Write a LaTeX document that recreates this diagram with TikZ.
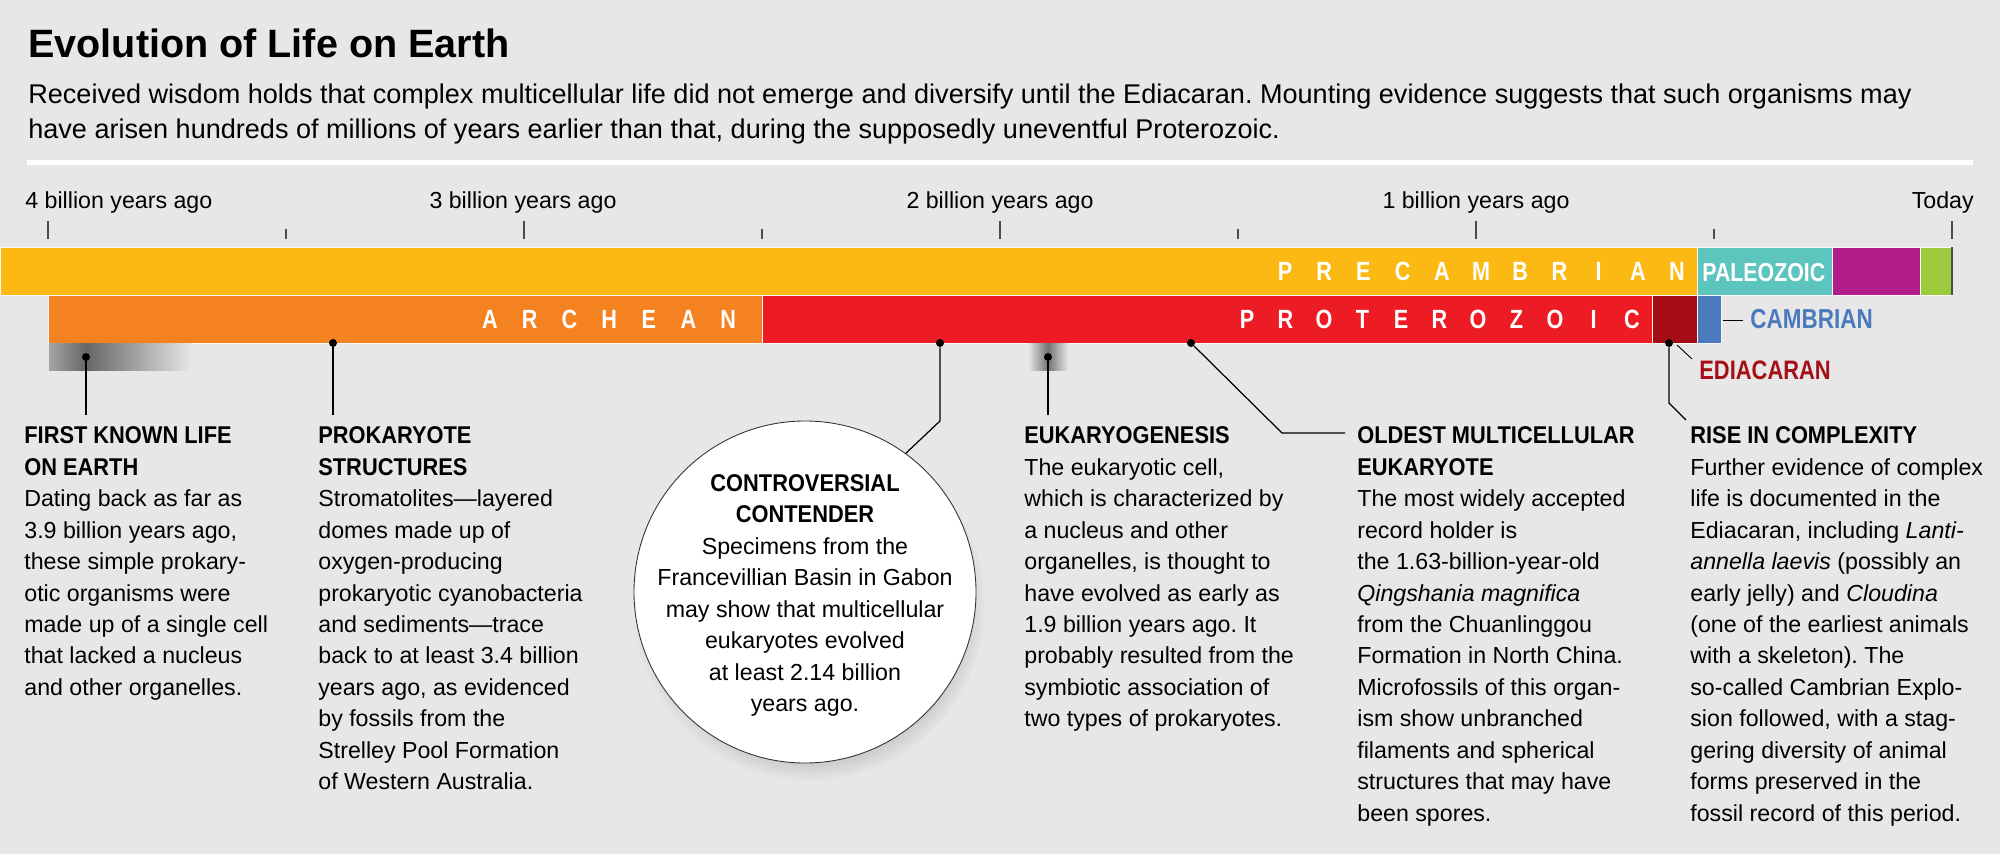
\documentclass[tikz,border=0pt]{standalone}
\usepackage{fontspec}
\setmainfont{Liberation Sans}
\newfontfamily\narrowfont{Liberation Sans}[FakeStretch=0.9]
\newfontfamily\condfont{Liberation Sans}[FakeStretch=0.82]
\usetikzlibrary{shadows}
\frenchspacing

\definecolor{bg}{RGB}{230,231,230}
\definecolor{precam}{RGB}{253,185,19}
\definecolor{paleo}{RGB}{91,197,190}
\definecolor{meso}{RGB}{177,28,139}
\definecolor{ceno}{RGB}{155,203,60}
\definecolor{archean}{RGB}{245,130,32}
\definecolor{protero}{RGB}{237,28,36}
\definecolor{ediac}{RGB}{165,14,21}
\definecolor{cambr}{RGB}{74,122,189}

\newcommand{\hd}[1]{{\narrowfont\bfseries\fontsize{13.8}{17.9}\selectfont #1}}

\tikzset{
  bar/.style={draw=white!75!bg, line width=0.5pt},
  dot/.style={circle, fill=black, inner sep=0pt, minimum size=1.6mm},
  leader/.style={line width=0.7pt},
  tickmark/.style={black!70, line width=0.7pt},
  ticklabel/.style={anchor=base, inner sep=0pt, font=\fontsize{13.2}{16}\selectfont},
  barletter/.style={anchor=base, inner sep=0pt, text=white, font=\condfont\bfseries\fontsize{15}{17}\selectfont},
  eralabel/.style={anchor=base west, inner sep=0pt, font=\condfont\bfseries\fontsize{#1}{18}\selectfont},
  coltext/.style={anchor=north west, align=left, inner sep=0pt, font=\fontsize{13.2}{17.9}\selectfont},
}

\begin{document}
\begin{tikzpicture}[x=0.2mm, y=-0.2mm]
\useasboundingbox (0,0) rectangle (2000,854);
\fill[bg] (0,0) rectangle (2000,854);

% heading
\node[anchor=base west, inner sep=0pt, font=\bfseries\fontsize{22.5}{26}\selectfont] (title) at (28,57) {Evolution of Life on Earth};
\node[anchor=base west, inner sep=0pt, font=\fontsize{15.4}{20}\selectfont] (intro1) at (28,103) {Received wisdom holds that complex multicellular life did not emerge and diversify until the Ediacaran. Mounting evidence suggests that such organisms may};
\node[anchor=base west, inner sep=0pt, font=\fontsize{15.4}{20}\selectfont] (intro2) at (28,138) {have arisen hundreds of millions of years earlier than that, during the supposedly uneventful Proterozoic.};
\draw[white, line width=1mm] (27,162) -- (1973,162);

% time axis
\node[ticklabel, anchor=base west] (t4) at (25,208) {4 billion years ago};
\node[ticklabel] (t3) at (523,208) {3 billion years ago};
\node[ticklabel] (t2) at (1000,208) {2 billion years ago};
\node[ticklabel] (t1) at (1476,208) {1 billion years ago};
\node[ticklabel, anchor=base east] (t0) at (1974,208) {Today};
\foreach \t in {4,3,2,1,0} \draw[tickmark] ({1952-476*\t},221) -- ++(0,18);
\foreach \t in {3.5,2.5,1.5,0.5} \draw[tickmark] ({1952-476*\t},229) -- ++(0,10);

% eons and eras
\path[bar, fill=precam] (0,247) rectangle (1697,295);
\path[bar, fill=paleo] (1697,247) rectangle (1832,295);
\path[bar, fill=meso] (1832,247) rectangle (1920,295);
\path[bar, fill=ceno] (1920,247) rectangle (1952,295);
\draw[black!70, line width=0.6pt] (1952,247) -- (1952,295);
\path[bar, fill=archean] (48,295) rectangle (762,343);
\path[bar, fill=protero] (762,295) rectangle (1652,343);
\path[bar, fill=ediac] (1652,295) rectangle (1697,343);
\path[bar, fill=cambr] (1697,295) rectangle (1721,343);

\foreach \ch [count=\i from 0] in {P,R,E,C,A,M,B,R,I,A,N}
  \node[barletter] (pc\i) at ({1285+39.2*\i},280) {\ch};
\foreach \ch [count=\i from 0] in {A,R,C,H,E,A,N}
  \node[barletter] (ar\i) at ({490+39.7*\i},328) {\ch};
\foreach \ch [count=\i from 0] in {P,R,O,T,E,R,O,Z,O,I,C}
  \node[barletter] (pt\i) at ({1247+38.5*\i},328) {\ch};
\node[eralabel=14.8, text=white] (paleoname) at (1702,281) {PALEOZOIC};

\node[eralabel=15.6, text=cambr] (cambrname) at (1750,328) {CAMBRIAN};
\node[eralabel=15.2, text=ediac] (ediacname) at (1699,379) {EDIACARAN};
\coordinate (cb1) at (1723,320);
\coordinate (cb2) at (1743,320);
\coordinate (ed1) at (1677,345);
\coordinate (ed2) at (1692,359);
\draw[line width=0.5pt] (cb1) -- (cb2);
\draw[line width=0.5pt] (ed1) -- (ed2);

% uncertain ranges
\shade[left color=black!35, right color=black!60] (49,343) rectangle (86,370);
\shade[left color=black!60, right color=bg] (86,343) rectangle (192,370);
\shade[left color=bg, right color=bg, middle color=black!55] (1028,343) rectangle (1068,370);

% markers
\node[dot] (fldot) at (86,357) {};
\node[dot] (pkdot) at (333,343) {};
\node[dot] (ctdot) at (940,343) {};
\node[dot] (eudot) at (1048,357) {};
\node[dot] (oldot) at (1191,343) {};
\node[dot] (ridot) at (1669,343) {};

% controversial contender
\node[circle, draw=black!80, line width=0.5pt, fill=white, minimum size=68.4mm, inner sep=0pt,
  circular drop shadow={shadow xshift=0.8mm, shadow yshift=-2.5mm, opacity=0.35, shadow scale=1.03}]
  (circ) at (805,592) {};
\node[anchor=north, align=center, inner sep=0pt, font=\fontsize{13.2}{17.9}\selectfont] (cttext) at (805,474)
  {\hd{CONTROVERSIAL}\\ \hd{CONTENDER}\\ Specimens from the\\ Francevillian Basin in Gabon\\
   may show that multicellular\\ eukaryotes evolved\\ at least 2.14 billion\\ years ago.};

% leader lines
\coordinate (flend) at (86,415);
\coordinate (pkend) at (333,415);
\coordinate (ctbend) at (940,421);
\coordinate (euend) at (1048,415);
\coordinate (olbend) at (1282,433);
\coordinate (olend) at (1345,433);
\coordinate (ribend) at (1669,403);
\coordinate (riend) at (1686,420);
\draw[leader] (fldot) -- (flend);
\draw[leader] (pkdot) -- (pkend);
\draw[leader] (ctdot) -- (ctbend) -- (circ.54);
\draw[leader] (eudot) -- (euend);
\draw[leader] (oldot) -- (olbend) -- (olend);
\draw[leader] (ridot) -- (ribend) -- (riend);

% notes
\node[coltext] (fltext) at (24,426.5)
  {\hd{FIRST KNOWN LIFE}\\ \hd{ON EARTH}\\ Dating back as far as\\ 3.9 billion years ago,\\
   these simple prokary-\\ otic organisms were\\ made up of a single cell\\ that lacked a nucleus\\
   and other organelles.};
\node[coltext] (pktext) at (318,426.5)
  {\hd{PROKARYOTE}\\ \hd{STRUCTURES}\\ Stromatolites—layered\\ domes made up of\\ oxygen-producing\\
   prokaryotic cyanobacteria\\ and sediments—trace\\ back to at least 3.4 billion\\
   years ago, as evidenced\\ by fossils from the\\ Strelley Pool Formation\\ of Western Australia.};
\node[coltext] (eutext) at (1024,426.5)
  {\hd{EUKARYOGENESIS}\\ The eukaryotic cell,\\ which is characterized by\\ a nucleus and other\\
   organelles, is thought to\\ have evolved as early as\\ 1.9 billion years ago. It\\
   probably resulted from the\\ symbiotic association of\\ two types of prokaryotes.};
\node[coltext] (oltext) at (1357,426.5)
  {\hd{OLDEST MULTICELLULAR}\\ \hd{EUKARYOTE}\\ The most widely accepted\\ record holder is\\
   the 1.63-billion-year-old\\ \textit{Qingshania magnifica}\\ from the Chuanlinggou\\
   Formation in North China.\\ Microfossils of this organ-\\ ism show unbranched\\
   filaments and spherical\\ structures that may have\\ been spores.};
\node[coltext] (ritext) at (1690,426.5)
  {\hd{RISE IN COMPLEXITY}\\ Further evidence of complex\\ life is documented in the\\
   Ediacaran, including \textit{Lanti-}\\ \textit{annella laevis} (possibly an\\
   early jelly) and \textit{Cloudina}\\ (one of the earliest animals\\ with a skeleton). The\\
   so-called Cambrian Explo-\\ sion followed, with a stag-\\ gering diversity of animal\\
   forms preserved in the\\ fossil record of this period.};
\end{tikzpicture}
\end{document}
